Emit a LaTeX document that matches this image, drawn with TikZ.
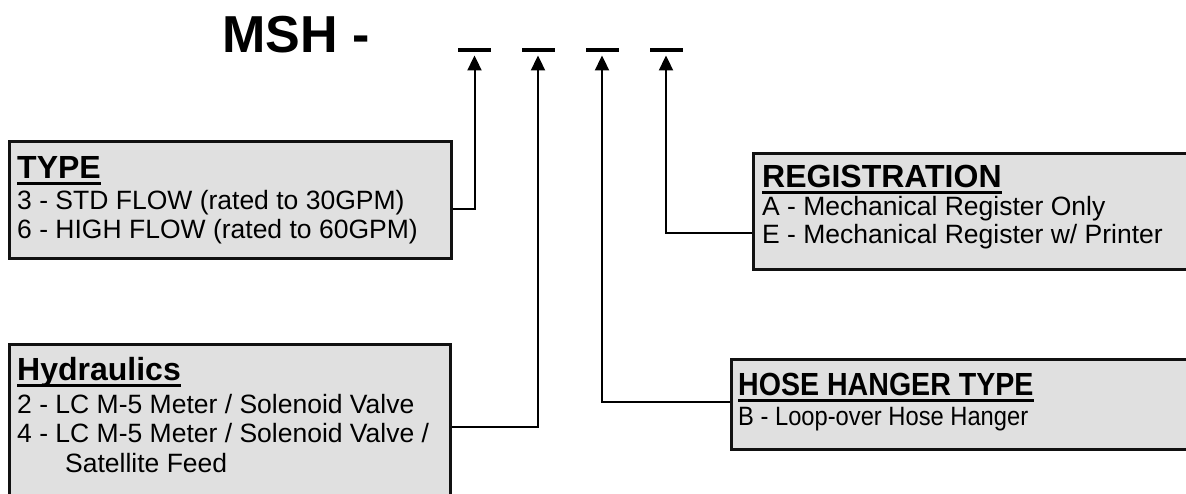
\documentclass[tikz,border=0pt]{standalone}
\usepackage{fontspec}
\setmainfont{Liberation Sans}
\usetikzlibrary{arrows.meta,calc}
\definecolor{boxfill}{HTML}{E0E0E0}
\definecolor{boxline}{HTML}{111111}
\tikzset{
  box/.style={draw=boxline, fill=boxfill, line width=2.5pt, rectangle, inner sep=0pt, anchor=north west},
  head/.style={inner sep=0pt, anchor=base west, font=\bfseries\fontsize{32}{36}\selectfont},
  txt/.style={inner sep=0pt, anchor=base west, font=\fontsize{26.5}{29}\selectfont},
  blank/.style={fill=black, inner sep=0pt, minimum width=33pt, minimum height=3.5pt},
  conn/.style={line width=2pt, -{Triangle[width=14pt,length=15pt]}, shorten >=3.5pt},
  uline/.style={line width=3pt}
}
\begin{document}
\begin{tikzpicture}[x=1pt,y=-1pt]
\useasboundingbox (0,0) rectangle (1186,493);
% title
\node[inner sep=0pt, anchor=base west, font=\bfseries\fontsize{52}{56}\selectfont] (title) at (222,52) {MSH -};
% blanks
\node[blank] (d1) at (474.5,50) {};
\node[blank] (d2) at (538,50) {};
\node[blank] (d3) at (602,50) {};
\node[blank] (d4) at (666,50) {};
% boxes
\node[box, minimum width=442pt, minimum height=117pt] (type) at (8,140) {};
\node[box, minimum width=443pt, minimum height=116pt] (reg) at (752,152) {};
\node[box, minimum width=441pt, minimum height=160pt] (hyd) at (8,343) {};
\node[box, minimum width=465pt, minimum height=90pt] (hose) at (730,358) {};
% TYPE
\node[head] (typeh) at (17,178) {TYPE};
\draw[uline] ($(typeh.base west)+(0,5)$) -- ($(typeh.base east)+(0,5)$);
\node[txt] (type1) at (17,209) {3 - STD FLOW (rated to 30GPM)};
\node[txt] (type2) at (17,238) {6 - HIGH FLOW (rated to 60GPM)};
% REGISTRATION
\node[head] (regh) at (762,187) {REGISTRATION};
\draw[uline] ($(regh.base west)+(0,5)$) -- ($(regh.base east)+(0,5)$);
\node[txt] (reg1) at (762,215) {A - Mechanical Register Only};
\node[txt] (reg2) at (762,243) {E - Mechanical Register w/ Printer};
% Hydraulics
\node[head] (hydh) at (17,380) {Hydraulics};
\draw[uline] ($(hydh.base west)+(0,5)$) -- ($(hydh.base east)+(0,5)$);
\node[txt] (hyd1) at (17,413) {2 - LC M-5 Meter / Solenoid Valve};
\node[txt] (hyd2) at (17,442) {4 - LC M-5 Meter / Solenoid Valve /};
\node[txt] (hyd3) at (65,472) {Satellite Feed};
% HOSE HANGER
\node[head] (hoseh) at (738,395) {\scalebox{0.893}[1]{HOSE HANGER TYPE}};
\draw[uline] ($(hoseh.base west)+(0,5)$) -- ($(hoseh.base east)+(0,5)$);
\node[txt] (hose1) at (738,425) {\scalebox{0.895}[1]{B - Loop-over Hose Hanger}};
% connectors
\coordinate (ct) at (0,209);
\coordinate (ch) at (0,427);
\coordinate (cs) at (0,402);
\coordinate (cr) at (0,233);
\draw[conn] (type.east |- ct) -| (d1.south);
\draw[conn] (hyd.east |- ch) -| (d2.south);
\draw[conn] (hose.west |- cs) -| (d3.south);
\draw[conn] (reg.west |- cr) -| (d4.south);
\end{tikzpicture}
\end{document}
